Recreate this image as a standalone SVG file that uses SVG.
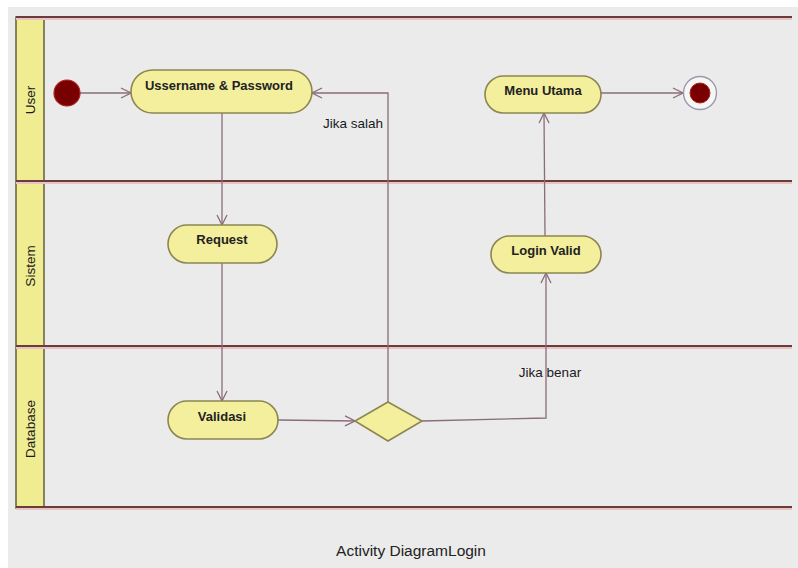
<svg xmlns="http://www.w3.org/2000/svg" width="798" height="568" viewBox="0 0 798 568">
<defs>
<marker id="arr" viewBox="0 0 12 12" refX="11" refY="6" markerWidth="12" markerHeight="12" markerUnits="userSpaceOnUse" orient="auto">
<path d="M1,1 L11,6 L1,11" fill="none" stroke="#8a6c7c" stroke-width="1.3"/>
</marker>
</defs>
<style>
.bg{fill:#ebebeb}
.hdr{fill:#efec92;stroke:#6d6842;stroke-width:1.6}
.lane-halo{stroke:#e9c2c2;stroke-width:4}
.lane{stroke:#6a3c3c;stroke-width:1.8}
.node{fill:#f3ef9c;stroke:#8c8650;stroke-width:1.6}
.ntext{font-family:"Liberation Sans",Arial,sans-serif;font-size:13px;font-weight:bold;fill:#222;text-anchor:middle}
.ltext{font-family:"Liberation Sans",Arial,sans-serif;font-size:13.5px;fill:#1a1a1a;text-anchor:middle}
.conn{fill:none;stroke:#8a6c7c;stroke-width:1.3}
.cap{font-family:"Liberation Sans",Arial,sans-serif;font-size:15.5px;fill:#222;text-anchor:middle}
</style>
<rect x="0" y="0" width="798" height="568" fill="#ffffff"/>
<rect class="bg" x="8" y="7" width="790" height="561"/>

<g id="swimlanes">
<rect class="hdr" x="16" y="17" width="28" height="491"/>
<g id="lane-lines">
<line class="lane-halo" x1="16" y1="18" x2="792" y2="18"/>
<line class="lane-halo" x1="16" y1="182" x2="792" y2="182"/>
<line class="lane-halo" x1="16" y1="347" x2="792" y2="347"/>
<line class="lane-halo" x1="16" y1="508" x2="792" y2="508"/>
<line class="lane" x1="16" y1="17" x2="792" y2="17"/>
<line class="lane" x1="16" y1="181" x2="792" y2="181"/>
<line class="lane" x1="16" y1="346" x2="792" y2="346"/>
<line class="lane" x1="16" y1="507" x2="792" y2="507"/>
</g>
<text class="ltext" transform="translate(35,100) rotate(-90)">User</text>
<text class="ltext" transform="translate(35,266) rotate(-90)">Sistem</text>
<text class="ltext" transform="translate(35,429) rotate(-90)">Database</text>
</g>

<g id="connectors">
<line class="conn" x1="80" y1="93" x2="131" y2="93" marker-end="url(#arr)"/>
<line class="conn" x1="222" y1="113" x2="222" y2="225" marker-end="url(#arr)"/>
<line class="conn" x1="222" y1="263" x2="222" y2="401" marker-end="url(#arr)"/>
<line class="conn" x1="278" y1="420" x2="355" y2="421" marker-end="url(#arr)"/>
<polyline class="conn" points="388,402 388,93 312,93" marker-end="url(#arr)"/>
<polyline class="conn" points="422,421 546,418 546,273" marker-end="url(#arr)"/>
<line class="conn" x1="545" y1="236" x2="544" y2="113" marker-end="url(#arr)"/>
<line class="conn" x1="601" y1="93" x2="683" y2="93" marker-end="url(#arr)"/>
<text class="ltext" x="353" y="128">Jika salah</text>
<text class="ltext" x="550" y="377">Jika benar</text>
</g>

<g id="start">
<circle cx="67" cy="93" r="13" fill="#780000" stroke="#b02020" stroke-width="1.2"/>
</g>

<g id="n-login">
<rect class="node" x="131" y="70" width="181" height="43" rx="21.5"/>
<text class="ntext" x="219" y="90">Ussername &amp; Password</text>
</g>

<g id="n-menu">
<rect class="node" x="485" y="76" width="116" height="37" rx="18.5"/>
<text class="ntext" x="543" y="95">Menu Utama</text>
</g>

<g id="end">
<circle cx="700" cy="93" r="16.5" fill="#f6f6f6" stroke="#9a9aac" stroke-width="1.4"/>
<circle cx="700" cy="93" r="10" fill="#780000" stroke="#b02020" stroke-width="1"/>
</g>

<g id="n-request">
<rect class="node" x="168" y="225" width="109" height="38" rx="19"/>
<text class="ntext" x="222" y="244">Request</text>
</g>

<g id="n-valid">
<rect class="node" x="491" y="236" width="110" height="37" rx="18.5"/>
<text class="ntext" x="546" y="255">Login Valid</text>
</g>

<g id="n-validasi">
<rect class="node" x="168" y="401" width="110" height="38" rx="19"/>
<text class="ntext" x="222" y="421">Validasi</text>
</g>

<g id="decision">
<polygon class="node" points="388,402 422,421 388,441 355,421"/>
</g>

<text class="cap" x="411" y="556">Activity DiagramLogin</text>
</svg>
